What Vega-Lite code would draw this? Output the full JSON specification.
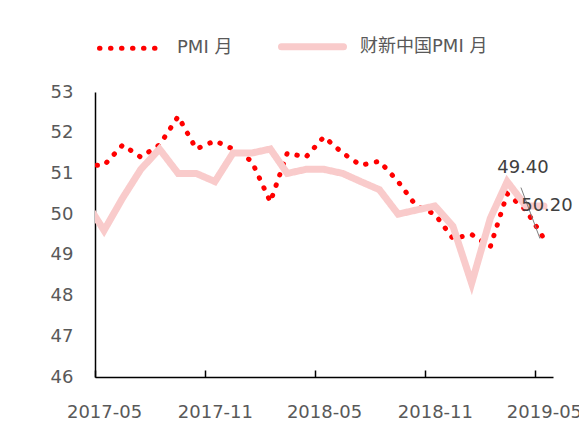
{
  "$schema": "https://vega.github.io/schema/vega-lite/v6.json",
  "width": 458,
  "height": 285,
  "autosize": {"type": "none"},
  "padding": {"left": 95, "top": 92, "right": 26, "bottom": 57},
  "background": "white",
  "config": {
    "view": {"stroke": null},
    "font": "DejaVu Sans, Noto Sans CJK SC",
    "axis": {"grid": false, "domainColor": "#000000", "domainWidth": 1.5, "labelColor": "#595959", "labelFont": "DejaVu Sans", "labelFontSize": 18, "title": null, "tickColor": "#000000", "tickWidth": 1.5}
  },
  "data": {"values": [
    {"date": "2017-04-01", "series": "PMI 月", "value": 51.2},
    {"date": "2017-05-01", "series": "PMI 月", "value": 51.2},
    {"date": "2017-06-01", "series": "PMI 月", "value": 51.7},
    {"date": "2017-07-01", "series": "PMI 月", "value": 51.4},
    {"date": "2017-08-01", "series": "PMI 月", "value": 51.7},
    {"date": "2017-09-01", "series": "PMI 月", "value": 52.4},
    {"date": "2017-10-01", "series": "PMI 月", "value": 51.6},
    {"date": "2017-11-01", "series": "PMI 月", "value": 51.8},
    {"date": "2017-12-01", "series": "PMI 月", "value": 51.6},
    {"date": "2018-01-01", "series": "PMI 月", "value": 51.3},
    {"date": "2018-02-01", "series": "PMI 月", "value": 50.3},
    {"date": "2018-03-01", "series": "PMI 月", "value": 51.5},
    {"date": "2018-04-01", "series": "PMI 月", "value": 51.4},
    {"date": "2018-05-01", "series": "PMI 月", "value": 51.9},
    {"date": "2018-06-01", "series": "PMI 月", "value": 51.5},
    {"date": "2018-07-01", "series": "PMI 月", "value": 51.2},
    {"date": "2018-08-01", "series": "PMI 月", "value": 51.3},
    {"date": "2018-09-01", "series": "PMI 月", "value": 50.8},
    {"date": "2018-10-01", "series": "PMI 月", "value": 50.2},
    {"date": "2018-11-01", "series": "PMI 月", "value": 50.0},
    {"date": "2018-12-01", "series": "PMI 月", "value": 49.4},
    {"date": "2019-01-01", "series": "PMI 月", "value": 49.5},
    {"date": "2019-02-01", "series": "PMI 月", "value": 49.2},
    {"date": "2019-03-01", "series": "PMI 月", "value": 50.5},
    {"date": "2019-04-01", "series": "PMI 月", "value": 50.1},
    {"date": "2019-05-01", "series": "PMI 月", "value": 49.4},
    {"date": "2017-04-01", "series": "财新中国PMI 月", "value": 50.3},
    {"date": "2017-05-01", "series": "财新中国PMI 月", "value": 49.6},
    {"date": "2017-06-01", "series": "财新中国PMI 月", "value": 50.4},
    {"date": "2017-07-01", "series": "财新中国PMI 月", "value": 51.1},
    {"date": "2017-08-01", "series": "财新中国PMI 月", "value": 51.6},
    {"date": "2017-09-01", "series": "财新中国PMI 月", "value": 51.0},
    {"date": "2017-10-01", "series": "财新中国PMI 月", "value": 51.0},
    {"date": "2017-11-01", "series": "财新中国PMI 月", "value": 50.8},
    {"date": "2017-12-01", "series": "财新中国PMI 月", "value": 51.5},
    {"date": "2018-01-01", "series": "财新中国PMI 月", "value": 51.5},
    {"date": "2018-02-01", "series": "财新中国PMI 月", "value": 51.6},
    {"date": "2018-03-01", "series": "财新中国PMI 月", "value": 51.0},
    {"date": "2018-04-01", "series": "财新中国PMI 月", "value": 51.1},
    {"date": "2018-05-01", "series": "财新中国PMI 月", "value": 51.1},
    {"date": "2018-06-01", "series": "财新中国PMI 月", "value": 51.0},
    {"date": "2018-07-01", "series": "财新中国PMI 月", "value": 50.8},
    {"date": "2018-08-01", "series": "财新中国PMI 月", "value": 50.6},
    {"date": "2018-09-01", "series": "财新中国PMI 月", "value": 50.0},
    {"date": "2018-10-01", "series": "财新中国PMI 月", "value": 50.1},
    {"date": "2018-11-01", "series": "财新中国PMI 月", "value": 50.2},
    {"date": "2018-12-01", "series": "财新中国PMI 月", "value": 49.7},
    {"date": "2019-01-01", "series": "财新中国PMI 月", "value": 48.3},
    {"date": "2019-02-01", "series": "财新中国PMI 月", "value": 49.9},
    {"date": "2019-03-01", "series": "财新中国PMI 月", "value": 50.8},
    {"date": "2019-04-01", "series": "财新中国PMI 月", "value": 50.2},
    {"date": "2019-05-01", "series": "财新中国PMI 月", "value": 50.2}
  ]},
  "resolve": {"axis": {"x": "independent"}},
  "layer": [
    {
      "transform": [{"filter": "datum.series === 'PMI 月'"}],
      "mark": {"type": "line", "clip": true, "strokeCap": "round"},
      "encoding": {
        "x": {"field": "date", "type": "temporal",
          "scale": {"type": "utc", "domain": [{"year": 2017, "month": 4, "date": 16, "utc": true}, {"year": 2019, "month": 5, "date": 16, "utc": true}]},
          "axis": {"orient": "bottom", "labels": false, "ticks": true, "tickSize": -7,
            "values": [{"year": 2017, "month": 4, "date": 16, "utc": true}, {"year": 2017, "month": 10, "date": 16, "utc": true}, {"year": 2018, "month": 4, "date": 16, "utc": true}, {"year": 2018, "month": 10, "date": 16, "utc": true}, {"year": 2019, "month": 4, "date": 16, "utc": true}]}},
        "y": {"field": "value", "type": "quantitative", "scale": {"domain": [46, 53]},
          "axis": {"values": [46, 47, 48, 49, 50, 51, 52, 53], "ticks": false, "labelPadding": 22}},
        "color": {"field": "series", "type": "nominal",
          "scale": {"domain": ["PMI 月", "财新中国PMI 月"], "range": ["#FF0000", "#F9CBCB"]},
          "legend": {"orient": "none", "direction": "horizontal", "legendX": 2, "legendY": -80, "title": null, "padding": 0,
            "symbolType": "stroke", "symbolSize": 3844, "labelFontSize": 18, "labelColor": "#595959", "labelFont": "DejaVu Sans, Noto Sans CJK SC", "labelOffset": 13, "columnPadding": 34,
            "encode": {"symbols": {"update": {"strokeCap": {"value": "round"}}}}}},
        "strokeDash": {"field": "series", "type": "nominal",
          "scale": {"domain": ["PMI 月", "财新中国PMI 月"], "range": [[0.5, 10.5], [1, 0]]}},
        "strokeWidth": {"field": "series", "type": "nominal",
          "scale": {"domain": ["PMI 月", "财新中国PMI 月"], "range": [5, 7]}}
      }
    },
    {
      "transform": [{"filter": "datum.series === '财新中国PMI 月'"}],
      "mark": {"type": "line", "clip": true, "strokeCap": "round", "strokeJoin": "miter"},
      "encoding": {
        "x": {"field": "date", "type": "temporal",
          "axis": {"orient": "bottom", "ticks": false, "domain": false, "labelPadding": 26, "labelExpr": "utcFormat(datum.value, '%Y-%m')", "labelOverlap": false, "labelBound": false, "labelFlush": false,
            "values": [{"year": 2017, "month": 5, "date": 1, "utc": true}, {"year": 2017, "month": 11, "date": 1, "utc": true}, {"year": 2018, "month": 5, "date": 1, "utc": true}, {"year": 2018, "month": 11, "date": 1, "utc": true}, {"year": 2019, "month": 5, "date": 1, "utc": true}]}},
        "y": {"field": "value", "type": "quantitative"},
        "color": {"field": "series", "type": "nominal"},
        "strokeDash": {"field": "series", "type": "nominal"},
        "strokeWidth": {"field": "series", "type": "nominal"}
      }
    },
    {
      "transform": [{"filter": "datum.series === 'PMI 月' && utcyear(datum.date) === 2019 && utcmonth(datum.date) === 4"}],
      "mark": {"type": "rule", "color": "#808080", "strokeWidth": 1, "xOffset": -4, "x2Offset": -23, "y2Offset": -51},
      "encoding": {
        "x": {"field": "date", "type": "temporal", "axis": null},
        "y": {"field": "value", "type": "quantitative"},
        "x2": {"field": "date"},
        "y2": {"field": "value"}
      }
    },
    {
      "transform": [{"filter": "datum.series === 'PMI 月' && utcyear(datum.date) === 2019 && utcmonth(datum.date) === 4"}],
      "mark": {"type": "text", "fontSize": 18, "color": "#404040", "font": "DejaVu Sans", "align": "center", "baseline": "middle", "dx": -21, "dy": -71},
      "encoding": {
        "x": {"field": "date", "type": "temporal", "axis": null},
        "y": {"field": "value", "type": "quantitative"},
        "text": {"field": "value", "type": "quantitative", "format": ".2f"}
      }
    },
    {
      "transform": [{"filter": "datum.series === '财新中国PMI 月' && utcyear(datum.date) === 2019 && utcmonth(datum.date) === 4"}],
      "mark": {"type": "text", "fontSize": 18, "color": "#404040", "font": "DejaVu Sans", "align": "center", "baseline": "middle", "dx": 3, "dy": 0},
      "encoding": {
        "x": {"field": "date", "type": "temporal", "axis": null},
        "y": {"field": "value", "type": "quantitative"},
        "text": {"field": "value", "type": "quantitative", "format": ".2f"}
      }
    }
  ]
}
